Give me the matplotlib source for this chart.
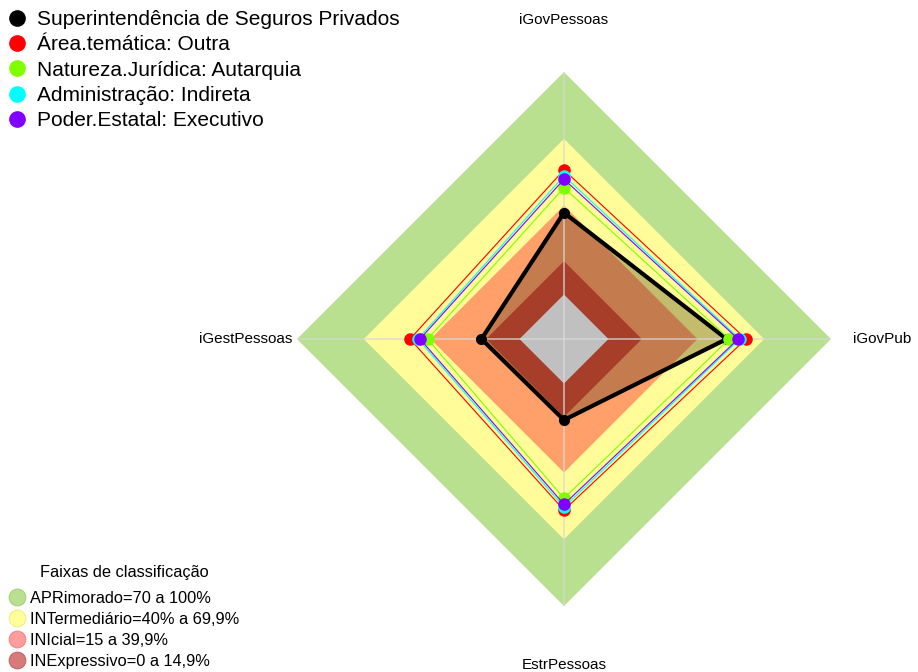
import numpy as np
import matplotlib
matplotlib.use('Agg')
import matplotlib.pyplot as plt
from matplotlib.lines import Line2D

plt.rcParams['font.family'] = ['Liberation Sans', 'DejaVu Sans']

# ---- data ----
eixos = ['iGovPessoas', 'iGovPub', 'EstrPessoas', 'iGestPessoas']
series = ['Superintendência de Seguros Privados', 'Área.temática: Outra',
          'Natureza.Jurídica: Autarquia', 'Administração: Indireta',
          'Poder.Estatal: Executivo']
cores = ['#000000', '#FF0000', '#80FF00', '#00FFFF', '#8000FF']
valores = [
    [36.8, 53.1, 16.4, 17.1],   # Superintendencia
    [56.0, 61.8, 56.9, 49.2],   # Area tematica
    [48.0, 54.3, 51.6, 41.3],   # Natureza juridica
    [53.3, 59.0, 55.6, 45.6],   # Administracao
    [51.8, 58.3, 54.3, 44.7],   # Poder estatal
]
faixas_lim = [100, 70, 40, 15]
faixas_cor = ['#B9E08E', '#FFFC99', '#FFA06A', '#A63E2A']
faixas_nome = ['APRimorado=70 a 100%', 'INTermediário=40% a 69,9%',
               'INIcial=15 a 39,9%', 'INExpressivo=0 a 14,9%']
faixas_leg = ['#B9E08E', '#FFFF99', '#FF9C9C', '#D67A7A']
faixas_borda = ['#A8D07C', '#EEEE88', '#EE8A8A', '#C06666']
rmin = -20

# angles: top, right, bottom, left
ang = np.deg2rad([90, 0, -90, 180])
ang_c = np.append(ang, ang[0])

fig = plt.figure(figsize=(9.18, 6.72), dpi=100)
ax = fig.add_axes([0.3235, 0.0982, 0.5817, 0.7946], projection='polar')
ax.set_ylim(rmin, 100)
ax.axis('off')

# bands
for i, (lim, c) in enumerate(zip(faixas_lim, faixas_cor)):
    z = 1 + i if i < 3 else 8
    ax.fill(ang_c, [lim] * 5, color=c, lw=0, zorder=z)
# grey center
ax.fill(ang_c, [0] * 5, color='#C0C0C0', lw=0, zorder=9)

# spokes
for a in ang:
    ax.plot([a, a], [rmin, 100], color='#D8D8D8', lw=1.3, alpha=0.7, zorder=10)

# black series fill (under dark bands)
v0 = valores[0] + [valores[0][0]]
ax.fill(ang_c, v0, color=(60 / 255, 40 / 255, 10 / 255), alpha=0.3, lw=0, zorder=4)
ax.plot(ang_c, v0, color='black', lw=3, zorder=11)
ax.plot(ang, valores[0], 'o', color='black', ms=7, zorder=11)

for k in range(1, len(series)):
    v = valores[k] + [valores[k][0]]
    ax.plot(ang_c, v, color=cores[k], lw=0.8, zorder=12 + k)
    ax.plot(ang, valores[k], 'o', color=cores[k], ms=8, zorder=12 + k)

# axis labels
ax.text(ang[0], 123.5, eixos[0], ha='center', va='center', fontsize=11)
ax.text(ang[1], 110, eixos[1], ha='left', va='center', fontsize=11)
ax.text(ang[2], 126.4, eixos[2], ha='center', va='center', fontsize=11)
ax.text(ang[3], 102.2, eixos[3], ha='right', va='center', fontsize=11)

# legend series
h1 = [Line2D([], [], ls='none', marker='o', ms=11, color=c) for c in cores]
fig.legend(h1, series, loc='upper left', bbox_to_anchor=(-0.0098, 1.005),
           frameon=False, fontsize=15, handletextpad=0.35, labelspacing=0.3,
           handlelength=1.2, borderaxespad=0.25)

# legend bands
fig.text(40 / 918, 1 - 572 / 672, 'Faixas de classificação', fontsize=11.8,
         ha='left', va='center')
h2 = [Line2D([], [], ls='none', marker='o', ms=12, markerfacecolor=c,
             markeredgecolor=e, markeredgewidth=0.8)
      for c, e in zip(faixas_leg, faixas_borda)]
fig.legend(h2, faixas_nome, loc='lower left', bbox_to_anchor=(-0.005, -0.017),
           frameon=False, fontsize=11.8, handletextpad=0.4, labelspacing=0.36,
           handlelength=0.8)

fig.savefig('out.png', dpi=100)
